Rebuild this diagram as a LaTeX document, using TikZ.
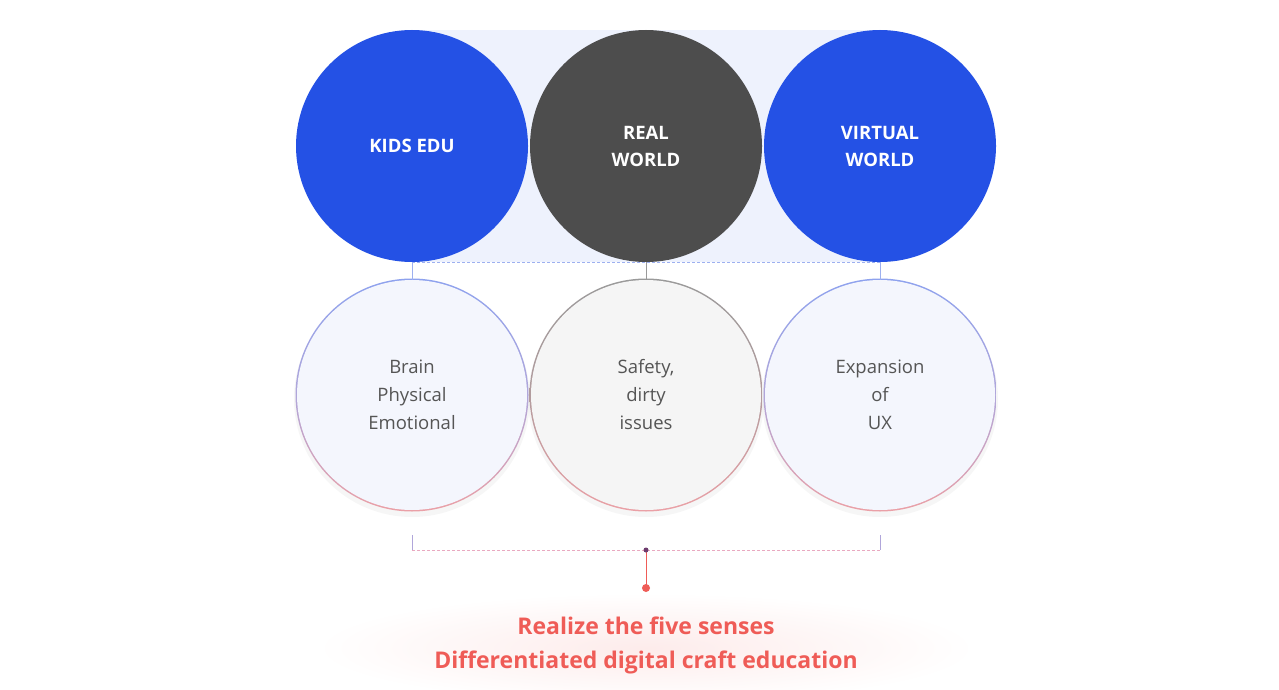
\documentclass[tikz,border=0pt]{standalone}
\usepackage{fontspec}
\setmainfont{Open Sans}
\definecolor{kblue}{HTML}{2451E5}
\definecolor{kgray}{HTML}{4D4D4D}
\definecolor{bandblue}{HTML}{EEF2FD}
\definecolor{softfill}{HTML}{F4F6FD}
\definecolor{greyfill}{HTML}{F5F5F5}
\definecolor{ringblue}{HTML}{8EA2EE}
\definecolor{ringmid}{HTML}{B0A6DA}
\definecolor{ringred}{HTML}{EBA0A6}
\definecolor{ringgray}{HTML}{9A9A9A}
\definecolor{txtgray}{HTML}{555555}
\definecolor{accent}{HTML}{EF5C57}
\definecolor{dashblue}{HTML}{9DB0F0}
\definecolor{dashpink}{HTML}{E9A9C0}
\definecolor{dotpurple}{HTML}{6E3C6E}
\tikzset{
  topcircle/.style={circle, minimum size=232pt, inner sep=0pt, text=white,
    font=\fontsize{18.5}{27}\selectfont\bfseries, align=center},
  subcircle/.style={circle, minimum size=230pt, inner sep=0pt, text=txtgray,
    font=\fontsize{18.5}{28}\selectfont, align=center},
  ringBR/.style={top color=ringblue, bottom color=ringred, middle color=ringmid},
  ringGR/.style={top color=ringgray, bottom color=ringred, middle color=ringgray!70!ringred},
  stem/.style={line width=1pt},
}
\begin{document}
\begin{tikzpicture}[x=1pt,y=-1pt]
\useasboundingbox[fill=white] (0,0) rectangle (1279,690);
% band behind top circles
\fill[bandblue] (412,30) rectangle (880,262);
\draw[dashblue, line width=1pt, dash pattern=on 3pt off 2pt] (412,262) -- (880,262);
% top circles
\node[topcircle, fill=kblue] (k1) at (412,146) {KIDS EDU};
\node[topcircle, fill=kgray] (k2) at (646,146) {REAL\\WORLD};
\node[topcircle, fill=kblue] (k3) at (880,146) {VIRTUAL\\WORLD};
% glow and shadows
\shade[inner color=accent!12, outer color=white] (646,648) ellipse (330pt and 55pt);
\foreach \x in {412,646,880}{
  \fill[black, opacity=0.035] (\x,399) circle (118pt);
}
% bottom ring shading
\shade[ringBR] (412,395) circle (116.5pt);
\shade[ringGR] (646,395) circle (116.5pt);
\shade[ringBR] (880,395) circle (116.5pt);
\node[subcircle, fill=softfill] (b1) at (412,395) {Brain\\Physical\\Emotional};
\node[subcircle, fill=greyfill] (b2) at (646,395) {Safety,\\dirty\\issues};
\node[subcircle, fill=softfill] (b3) at (880,395) {Expansion\\of\\UX};
% stems
\draw[stem, dashblue] (k1.south) -- (b1.north);
\draw[stem, ringgray] (k2.south) -- (b2.north);
\draw[stem, dashblue] (k3.south) -- (b3.north);
% bracket
\coordinate (l1) at (412,535);
\coordinate (l2) at (412,550);
\coordinate (r1) at (880,535);
\coordinate (r2) at (880,550);
\coordinate (m) at (646,550);
\coordinate (d) at (646,588);
\draw[ringmid, line width=1pt] (l1) -- (l2);
\draw[ringmid, line width=1pt] (r1) -- (r2);
\draw[dashpink, line width=1pt, dash pattern=on 3pt off 2pt] (l2) -- (r2);
\draw[accent, line width=1pt] (m) -- (d);
\fill[dotpurple] (m) circle (2.5pt);
\fill[accent] (d) circle (4pt);
% result text
\node[text=accent, font=\fontsize{23}{34}\selectfont\bfseries, align=center] (res) at (646,645)
  {Realize the five senses\\Differentiated digital craft education};
\end{tikzpicture}
\end{document}
